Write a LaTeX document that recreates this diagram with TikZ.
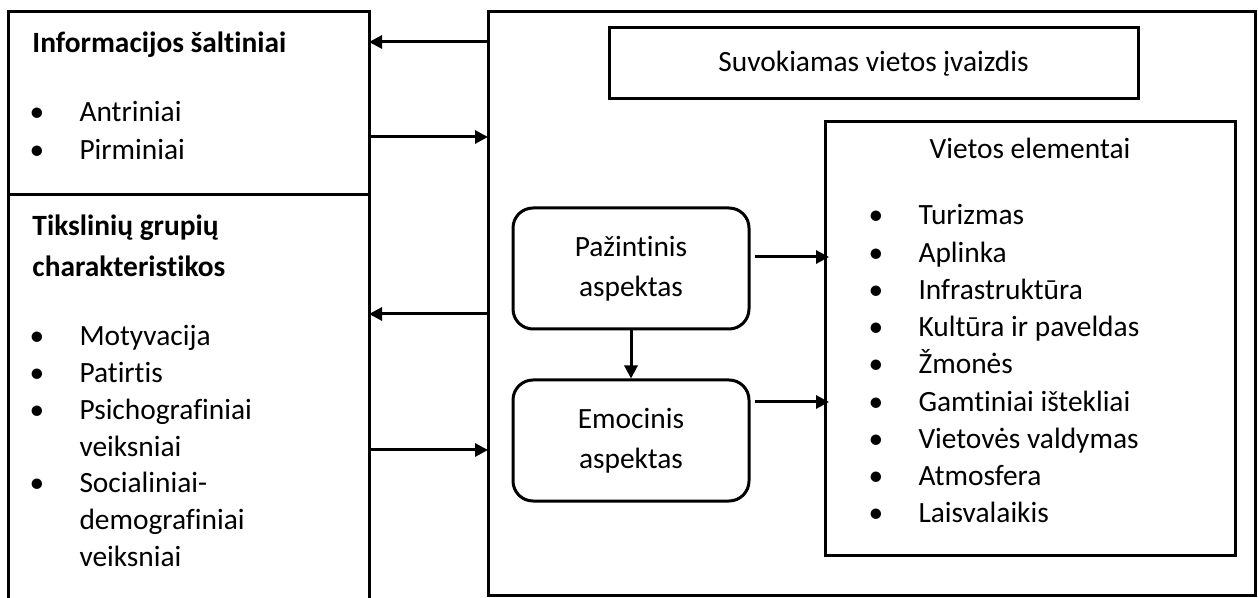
\documentclass[tikz,border=0pt]{standalone}
\usepackage{fontspec}
\setmainfont{Carlito}[Ligatures=NoCommon]
\usetikzlibrary{positioning, arrows.meta}
\tikzset{
  box/.style={draw, rectangle, inner sep=0pt, outer sep=0pt, anchor=north west},
  aspect/.style={draw, rectangle, rounded corners=10pt, minimum width=118pt,
    minimum height=60.5pt, align=center, font=\fontsize{14.7}{20}\selectfont},
  txt/.style={anchor=base west, inner sep=0pt},
  head/.style={txt, font=\fontsize{14.7}{18.5}\selectfont\bfseries},
  dot/.style={anchor=base, inner sep=0pt}
}

\begin{document}
\begin{tikzpicture}[x=0.5pt, y=-0.5pt, font=\fontsize{14.7}{18.5}\selectfont,
    -{Triangle[length=6.5pt,width=6.5pt]}, line width=1.5pt]
  \useasboundingbox (0,0) rectangle (1258,598);

  % frames
  \node[box, minimum width=180.5pt, minimum height=91.5pt] (info) at (8,12) {};
  \node[box, minimum width=180.5pt, minimum height=222.5pt] (groups) at (8,195) {};
  \node[box, minimum width=383.5pt, minimum height=291.5pt] (image) at (488,12) {};
  \node[box, anchor=center, minimum width=264.5pt, minimum height=35.5pt] (perceived)
    at (873.5,63.5) {Suvokiamas vietos įvaizdis};
  \node[box, minimum width=205pt, minimum height=216.5pt] (elements) at (825,122) {};
  \node[aspect] (cognitive) at (631,268.5) {Pažintinis\\aspektas};
  \node[aspect, below=24pt of cognitive] (emotional) {Emocinis\\aspektas};

  % left texts
  \node[head] (infohead) at (31,52.5) {Informacijos šaltiniai};
  \foreach \entry [count=\k] in {Antriniai, Pirminiai} {
    \node[dot] at (37,84.5+37.3*\k) {•};
    \node[txt] (src\k) at (78,84.5+37.3*\k) {\entry};
  }
  \node[head] (grphead) at (31,236) {Tikslinių grupių};
  \node[head, below=0pt of grphead.base west, anchor=base west, yshift=-20.5pt] (grphead2)
    {charakteristikos};
  \foreach \entry/\hasdot [count=\k] in {Motyvacija/1, Patirtis/1, Psichografiniai/1,
      veiksniai/0, Socialiniai-/1, demografiniai/0, veiksniai/0} {
    \ifnum\hasdot=1 \node[dot] at (37,309.3+36.7*\k) {•}; \fi
    \node[txt] (grp\k) at (78,309.3+36.7*\k) {\entry};
  }

  % place elements
  \node[anchor=base, inner sep=0pt] (elemhead) at (1030,159) {Vietos elementai};
  \foreach \entry [count=\k] in {Turizmas, Aplinka, Infrastruktūra, Kultūra ir paveldas,
      Žmonės, Gamtiniai ištekliai, Vietovės valdymas, Atmosfera, Laisvalaikis} {
    \node[dot] at (876,187.75+37.25*\k) {•};
    \node[txt] (elem\k) at (917,187.75+37.25*\k) {\entry};
  }

  % connectors
  \draw (image.west |- 0,42) -- (info.east |- 0,42);
  \draw (info.east |- 0,137) -- (image.west |- 0,137);
  \draw (image.west |- 0,314) -- (groups.east |- 0,314);
  \draw (groups.east |- 0,450) -- (image.west |- 0,450);
  \draw (cognitive) -- (emotional);
  \draw[shorten <=2pt, shorten >=-2pt] (cognitive.east |- 0,257) -- (elements.west |- 0,257);
  \draw[shorten <=2pt, shorten >=-2pt] (emotional.east |- 0,402) -- (elements.west |- 0,402);
\end{tikzpicture}
\end{document}
